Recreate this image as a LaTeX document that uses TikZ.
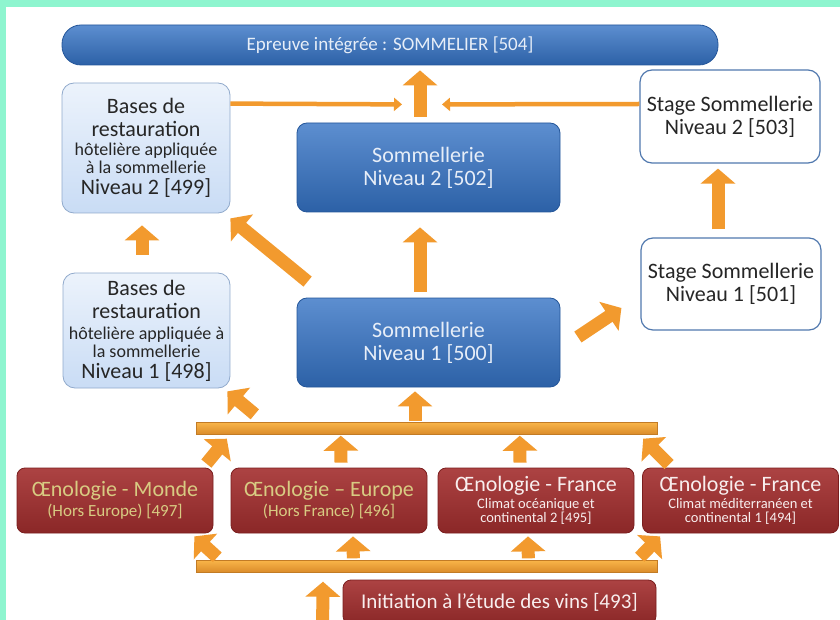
\documentclass[tikz,border=0pt]{standalone}
\usepackage{fontspec}
\setmainfont{Carlito}
\usetikzlibrary{arrows.meta, calc}
\definecolor{cmint}{HTML}{8EF5CF}
\definecolor{corange}{HTML}{F29A2E}
\definecolor{cbar}{HTML}{F8B448}
\definecolor{cblue}{HTML}{3472C4}
\definecolor{cbluedark}{HTML}{24569A}
\definecolor{clight}{HTML}{C9DCF5}
\definecolor{cred}{HTML}{A32E2E}
\definecolor{creddark}{HTML}{7A1E1E}
\definecolor{colive}{HTML}{D8CB82}
\newcommand\bigtxt{\fontsize{22}{23}\selectfont}
\newcommand\smalltxt{\fontsize{18}{19}\selectfont}
\newcommand\redsub{\fontsize{17}{18}\selectfont}
\newcommand\redtiny{\fontsize{14.5}{15}\selectfont}
\tikzset{
  bluebox/.style={draw=cbluedark, top color=cblue!80!white, bottom color=cblue!85!black, rounded corners=10pt, align=center, text=white!88!cblue, font=\bigtxt, line width=0.8pt},
  lightbox/.style={draw=cbluedark!50, top color=clight!35!white, bottom color=clight, rounded corners=12pt, align=center, text=black!85, font=\bigtxt, line width=0.8pt},
  whitebox/.style={draw=cbluedark!80, fill=white, rounded corners=12pt, align=center, text=black!85, font=\bigtxt, line width=1.2pt, minimum width=180pt},
  redbox/.style={draw=creddark, top color=cred!90!white, bottom color=cred!85!black, rounded corners=8pt, align=center, text=white!92!cred, font=\fontsize{22}{23}\selectfont, minimum width=196pt, minimum height=65pt, line width=0.8pt},
  bar/.style={draw=corange!80!black, top color=cbar, bottom color=corange!90!black, minimum width=461pt, minimum height=12pt, inner sep=0pt},
  blk/.style={draw=corange, line width=13pt, -{Triangle[length=15pt, width=34pt]}},
  thinarrow/.style={draw=corange, line width=4.5pt, -{Triangle[length=8pt, width=13pt]}},
}

\begin{document}
\begin{tikzpicture}[x=1pt, y=-1pt]
  \useasboundingbox (0,0) rectangle (840,620);
  \clip (0,0) rectangle (840,620);
  \fill[white] (0,0) rectangle (840,620);
  \fill[cmint] (0,0) rectangle (840,7);
  \fill[cmint] (0,0) rectangle (6,620);

  % upper part
  \node[bluebox, minimum width=656pt, minimum height=40pt, rounded corners=19pt, font=\fontsize{19}{21}\selectfont] (t504) at (390,45) {Epreuve intégrée : SOMMELIER [504]};
  \node[lightbox, minimum width=168pt, minimum height=130pt] (b499) at (146,148)
    {Bases de\\restauration\\[-4pt]{\smalltxt hôtelière appliquée}\\[-5pt]{\smalltxt à la sommellerie}\\[-2pt]Niveau 2 [499]};
  \node[bluebox, minimum width=263pt, minimum height=89pt] (b502) at (428.5,167.5) {Sommellerie\\Niveau 2 [502]};
  \node[whitebox, minimum height=93pt] (b503) at (730,116.5) {Stage Sommellerie\\Niveau 2 [503]};
  \node[lightbox, minimum width=167pt, minimum height=115pt] (b498) at (146.5,330.5)
    {Bases de\\restauration\\[-2pt]{\smalltxt hôtelière appliquée à}\\[-5pt]{\smalltxt la sommellerie}\\[-2pt]Niveau 1 [498]};
  \node[bluebox, minimum width=263pt, minimum height=89pt] (b500) at (428.5,342.5) {Sommellerie\\Niveau 1 [500]};
  \node[whitebox, minimum height=92pt] (b501) at (731,284) {Stage Sommellerie\\Niveau 1 [501]};

  % lower part
  \node[bar] (barhi) at (426.5,428.5) {};
  \node[bar] (barlo) at (427,566.5) {};
  \node[redbox, text=colive] (b497) at (115,500.5) {Œnologie - Monde\\[-3pt]{\redsub (Hors Europe) [497]}};
  \node[redbox, text=colive] (b496) at (329,500.5) {Œnologie – Europe\\[-3pt]{\redsub (Hors France) [496]}};
  \node[redbox] (b495) at (536,500.5) {Œnologie - France\\[-6pt]{\redtiny Climat océanique et}\\[-9pt]{\redtiny continental 2 [495]}};
  \node[redbox] (b494) at (740.5,500.5) {Œnologie - France\\[-6pt]{\redtiny Climat méditerranéen  et}\\[-9pt]{\redtiny continental 1 [494]}};
  \node[redbox, minimum width=313pt, minimum height=44pt, font=\fontsize{21}{22}\selectfont] (b493) at (499.5,602) {Initiation à l’étude des vins [493]};

  % arrows, upper part
  \draw[thinarrow] ($(b499.north east)+(0,21)$) -- ($(t504.south)+(12,39)$);
  \draw[thinarrow] ($(b503.west)+(0,-12.5)$) -- ($(t504.south)+(52,39)$);
  \draw[blk] ($(b502.north)+(-8.5,-6)$) -- ($(t504.south)+(30,5)$);
  \draw[blk] ($(b500.north)+(-8.5,-6)$) -- ($(b502.south)+(-8.5,15)$);
  \draw[blk] ($(b500.north west)+(11,-16)$) -- ($(b499.south east)+(0,5)$);
  \draw[blk] ($(b498.north)+(-4.5,-18)$) -- ($(b499.south)+(-4,12)$);
  \draw[blk] ($(b500.east)+(17.5,-5.5)$) -- ($(b501.west)+(-19,24)$);
  \draw[blk] ($(b501.north)+(-13,-8)$) -- ($(b503.south)+(-12,5)$);

  % arrows, lower part
  \draw[blk] ($(barhi.north)+(-11.5,-1)$) -- ($(b500.south)+(-13.5,4)$);
  \draw[blk] ($(barhi.north west)+(59,-8)$) -- ($(b498.south east)+(-3,3)$);
  \draw[blk] ($(b497.north east)+(-7,-4)$) -- ($(barhi.south west)+(31,4)$);
  \draw[blk] ($(b496.north)+(12,-5)$) -- ($(barhi.south west)+(145,1)$);
  \draw[blk] ($(b495.north)+(-16,-5)$) -- ($(barhi.south west)+(324,1)$);
  \draw[blk] ($(b494.north west)+(27,-3)$) -- ($(barhi.south east)+(-14,4)$);
  \draw[blk] ($(barlo.north west)+(21,-3)$) -- ($(b497.south east)+(-19,3)$);
  \draw[blk] ($(barlo.north west)+(157,-2)$) -- ($(b496.south)+(24,3)$);
  \draw[blk] ($(barlo.north west)+(332,-2)$) -- ($(b495.south)+(-8,3)$);
  \draw[blk] ($(barlo.north east)+(-18,-3)$) -- ($(b494.south west)+(18,3)$);
  \draw[blk] ($(b493.west)+(-20,23)$) -- ($(barlo.south)+(-104,9)$);
\end{tikzpicture}
\end{document}
